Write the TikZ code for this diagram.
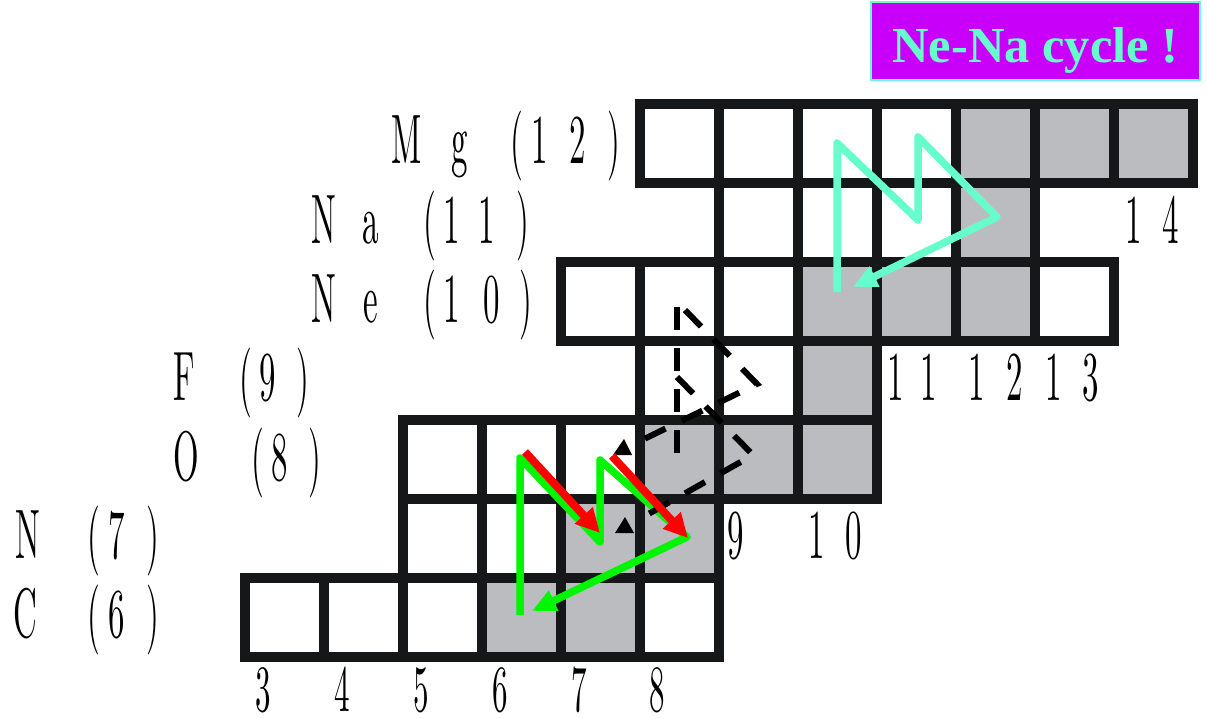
\documentclass[tikz,border=0pt]{standalone}
\usepackage{fontspec}
\usetikzlibrary{arrows.meta}
\newfontfamily\condfont[FakeStretch=0.47]{lmroman10-regular.otf}
\newfontfamily\titlefont{Liberation Serif}
\definecolor{cellgray}{RGB}{187,188,192}
\definecolor{gridblack}{RGB}{22,23,24}
\definecolor{aqua}{RGB}{102,255,204}
\definecolor{magbg}{RGB}{200,0,250}
\definecolor{cnogreen}{RGB}{0,245,0}
\definecolor{cnored}{RGB}{255,0,0}
\newcommand\glyphat[2]{\makebox[0pt][l]{\hspace*{#1pt}\makebox[0pt][c]{#2}}}
\tikzset{
  lbl/.style={anchor=base west, inner sep=0pt, font=\condfont\fontsize{70}{70}\selectfont, text=black},
  botlbl/.style={anchor=base west, inner sep=0pt, font=\condfont\fontsize{66}{66}\selectfont, text=black},
  gridline/.style={draw=gridblack, line width=9.5pt, line join=miter},
  cycleline/.style={line width=7.5pt, line join=round, -{Triangle[length=24pt,width=21pt]}},
  redarrow/.style={draw=cnored, line width=8pt, -{Triangle[length=24pt,width=23pt]}},
  dashline/.style={draw=black, line width=6pt, dash pattern=on 23pt off 18pt},
  titlebox/.style={fill=magbg, draw=aqua, line width=2pt, inner sep=0pt,
    minimum width=329pt, minimum height=78pt, text height=42pt, text depth=0pt,
    text=aqua, font=\titlefont\bfseries\fontsize{50.5}{50.5}\selectfont}
}
\begin{document}
\begin{tikzpicture}[x=1pt,y=-1pt]
\useasboundingbox (0,0) rectangle (1207,718);
% cells: N/Z/colour
\def\celllist{3/6/white,4/6/white,5/6/white,6/6/cellgray,7/6/cellgray,8/6/white,
5/7/white,6/7/white,7/7/cellgray,8/7/cellgray,
5/8/white,6/8/white,7/8/white,8/8/cellgray,9/8/cellgray,10/8/cellgray,
8/9/white,9/9/white,10/9/cellgray,
7/10/white,8/10/white,9/10/white,10/10/cellgray,11/10/cellgray,12/10/cellgray,13/10/white,
9/11/white,10/11/white,11/11/white,12/11/cellgray,
8/12/white,9/12/white,10/12/white,11/12/white,12/12/cellgray,13/12/cellgray,14/12/cellgray}
\foreach \n/\z/\f in \celllist {
  \fill[\f] ({245+79*(\n-3)},{578-79*(\z-6)}) rectangle ++(79,79);
}
\foreach \n/\z/\f in \celllist {
  \draw[gridline] ({245+79*(\n-3)},{578-79*(\z-6)}) rectangle ++(79,79);
}
% row labels
\node[lbl] (lmg) at (0,163) {\glyphat{405.5}{M}\glyphat{459.5}{g}\glyphat{516}{(}\glyphat{539}{1}\glyphat{577.5}{2}\glyphat{613}{)}};
\node[lbl] (lna) at (0,243) {\glyphat{323}{N}\glyphat{370.5}{a}\glyphat{429}{(}\glyphat{451.5}{1}\glyphat{486.5}{1}\glyphat{522}{)}};
\node[lbl] (lne) at (0,322) {\glyphat{323}{N}\glyphat{370.5}{e}\glyphat{429}{(}\glyphat{451.5}{1}\glyphat{491.5}{0}\glyphat{525}{)}};
\node[lbl] (lf) at (0,400) {\glyphat{183.5}{F}\glyphat{245}{(}\glyphat{267.5}{9}\glyphat{302.5}{)}};
\node[lbl] (lo) at (0,480) {\glyphat{186}{O}\glyphat{257}{(}\glyphat{279.5}{8}\glyphat{314}{)}};
\node[lbl] (ln) at (0,558) {\glyphat{27}{N}\glyphat{93}{(}\glyphat{116}{7}\glyphat{152}{)}};
\node[lbl] (lc) at (0,637) {\glyphat{25}{C}\glyphat{93}{(}\glyphat{116.5}{6}\glyphat{152}{)}};
% neutron-number labels
\node[botlbl] (nbot) at (0,711) {\glyphat{262.5}{3}\glyphat{341.5}{4}\glyphat{420.5}{5}\glyphat{499.5}{6}\glyphat{578.5}{7}\glyphat{656.5}{8}};
\node[lbl] (nmid) at (0,558) {\glyphat{735.5}{9}\glyphat{816}{1}\glyphat{853.5}{0}};
\node[lbl] (nne) at (0,400) {\glyphat{895}{1}\glyphat{928.5}{1}\glyphat{976}{1}\glyphat{1014.5}{2}\glyphat{1053.5}{1}\glyphat{1090.5}{3}};
\node[lbl] (nna) at (0,243) {\glyphat{1133}{1}\glyphat{1170}{4}};
% title
\node[titlebox] (title) at (1035.5,41) {Ne-Na cycle !};
% CNO cycle (green)
\coordinate (g0) at (520,615);
\coordinate (g1) at (520,458);
\coordinate (g2) at (600,542);
\coordinate (g3) at (600,460);
\coordinate (g4) at (687,537);
\coordinate (g5) at (532,611);
\draw[cycleline, draw=cnogreen] (g0) -- (g1) -- (g2) -- (g3) -- (g4) -- (g5);
% dashed branch
\coordinate (v0) at (677,307);
\coordinate (v1) at (677,457);
\coordinate (a0) at (685,310);
\coordinate (a1) at (757,384);
\coordinate (a2) at (638,442);
\coordinate (b0) at (677,377);
\coordinate (b1) at (753,455);
\coordinate (b2) at (643,517);
\draw[dashline] (v0) -- (v1);
\draw[dashline] (a0) -- (a1) -- (a2);
\draw[dashline] (b0) -- (b1) -- (b2);
\fill[black] (613,455) -- (632,455) -- (624,439) -- cycle;
\fill[black] (615,533) -- (634,533) -- (625,517) -- cycle;
% red arrows
\coordinate (r0) at (525,452);
\coordinate (r1) at (600,533);
\coordinate (r2) at (612,456);
\coordinate (r3) at (688,538);
\draw[redarrow] (r0) -- (r1);
\draw[redarrow] (r2) -- (r3);
% Ne-Na cycle (aquamarine)
\coordinate (c0) at (837,292);
\coordinate (c1) at (837,143);
\coordinate (c2) at (918,220);
\coordinate (c3) at (918,137);
\coordinate (c4) at (997,217);
\coordinate (c5) at (853,287);
\draw[cycleline, draw=aqua] (c0) -- (c1) -- (c2) -- (c3) -- (c4) -- (c5);
\end{tikzpicture}
\end{document}
